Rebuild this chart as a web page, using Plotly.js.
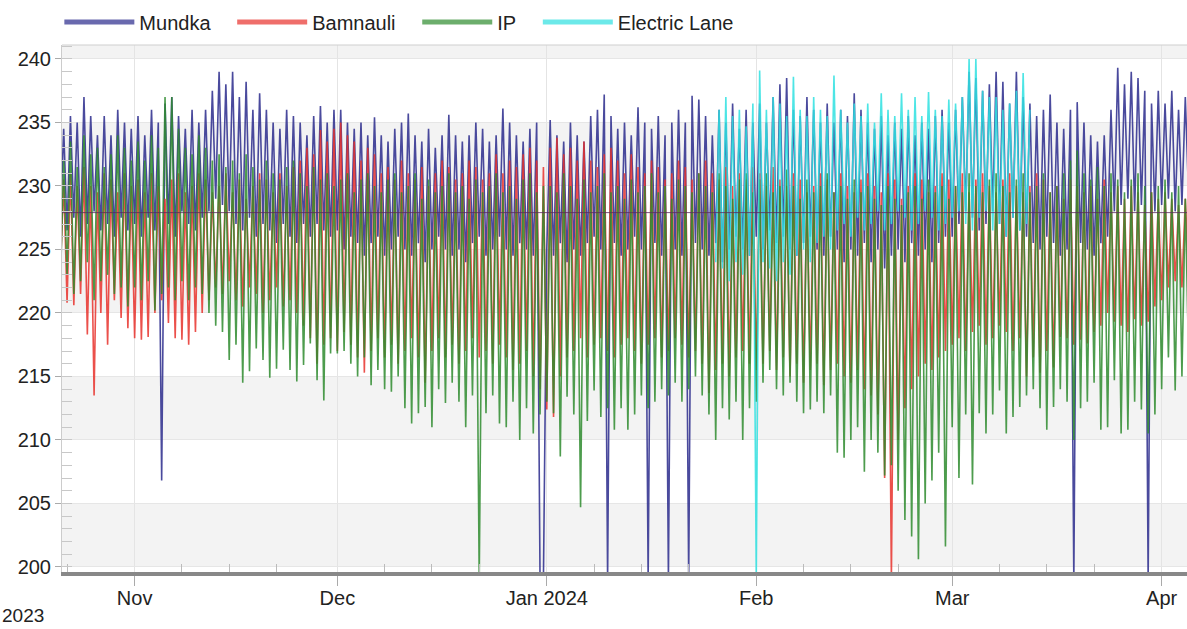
<!DOCTYPE html>
<html><head><meta charset="utf-8">
<script src="https://cdn.plot.ly/plotly-3.0.1.min.js"></script>
<style>html,body{margin:0;padding:0;background:#fff}#chart{width:1187px;height:629px}</style>
</head><body><div id="chart"></div>
<script>
// Daily readings (volts): first day 2023-10-21, one high and one low per day
const startDay = '2023-10-21';
const seriesNames = ['Mundka', 'Bamnauli', 'IP', 'Electric Lane'];

const mundkaHi = [
  234.5,235.5,235,237,235.5,234,235.5,234,236,235,234.5,
  235.5,234,236,235,236.5,237,235.5,234.5,236,235,236,237.5,239,238,239,237,238.2,236,237.3,236,235,234.5,236,235.5,235,234,235.5,236.3,235,236,
  236,235,234.5,235,234,235.4,234,233.5,234.5,235,235.7,234,233.5,234.5,233,234,235.6,234,233.5,234,235,234.5,233.5,234,236.1,235,234,233.5,234.5,235,199,
  235.2,234,233.5,235,234,233.5,235.5,236,237.2,235.5,234.5,235,234,236.2,235,234.5,235.5,234,235,236,235,237.1,236.8,235.5,234,236,235,236.5,234.5,236,235,
  236.5,235,237,238,238.5,236,235.5,237,236,235,236.5,235,236,235.5,237.3,236,235,234.5,235.5,234,235,234.5,235.5,234,235,234.5,235.5,236,235,
  236,237,239,238.5,237.5,238,239,238.2,236.5,239,237,236.5,235.5,236,237.2,235,234.5,236,236.6,235,234,233.5,234,236,239.3,238,239,238.5,237.5,236.5,237.5,
  236.5,237.5,236,237,236.5
];
const mundkaLo = [
  227,226.5,227.5,226,227,228,226.5,227,226,227.5,226.5,
  227,226,227.5,226.5,206.8,227,226,228,227,226.5,227.5,228,229,228.5,228,227,226.5,227.5,226,227,226.5,225.5,227,226,225.5,227,226,227,226.5,226,
  226.5,225,226,225.5,224.5,225.5,226,224.5,225,226,225,224.5,225.5,224,225,226,225,224.5,225,224,225.5,226,224.5,225,226,225,224.5,225.5,225,224.5,199,
  225,224.5,225.5,224,225,224.5,225.5,226,225,199,225.5,224.5,225,226,225,199,225.5,224.5,199,225,224.5,199,225.5,225,224.5,225.5,224,225,226,225,224.5,
  226,225,226.5,225.5,226,225,224.5,225.5,226,225,224.5,226,225,224,225,224.5,225.5,224,225,223.5,224.5,225,224,225.5,224.5,225,224,225.5,226,
  226,227,228,227.5,226.5,227,228,227,226,227.5,226.5,226,225.5,225,226,225.5,224.5,225,199,225.5,225,224.5,225.5,226,228,228.5,229,228,228.5,199,228,
  228.5,229,228,228.5,229
];
const bamnauliHi = [
  230.5,231,230,231.5,230,229.5,231,230.5,229.5,231,230,
  230.5,229.5,231,230,229,230.5,231,229.5,230,231,230.5,229.5,230,231,229.5,230.5,229,230,231,230.5,229.5,231,230,231.5,232,233,232.5,234.4,233.5,234.5,
  235,234,233.5,232,233,232.5,231,231.5,230.5,232,231,230.5,231.5,230,231,232,231.5,230.5,231,232,231.5,230.5,231,232.5,231,232,231.5,232.5,233,232,231.5,
  233,233.8,232.5,233,232,233.5,232,231.5,232.5,233,232,231,232.5,231.5,231,232,231.5,230.5,231,232,231.5,230.5,231,232,231,230.5,231.5,230,231,230.5,231.5,
  231,230,231.5,230.5,230,231,230.5,229.5,230,231,230.5,229.5,231,230,229.5,230.5,231,230,229.5,231,230.5,229,230,231,230.5,229.5,230,231,230.5,
  230,231,229.5,230.5,231,230,229.5,230.5,231,230,229.5,230,231,230.5,229.5,230,229,230.5,230,229.5,230,229,230.5,229.5,230,229,230,229.5,228.5,229.5,229,
  229.5,229,228.5,229,229.5
];
const bamnauliLo = [
  223,220.8,220.6,221.5,218.3,213.5,220,217.5,221,219.6,218.8,
  218,217.9,218.1,220,221,219.2,218,217.9,217.5,218.5,220,221,222,221.5,222.5,221,220.5,222,221.5,220,221,222,220.5,221,220,219,218,216,217.5,218,
  217,218.5,217.5,216.5,215.3,217,218,216.5,217.5,216,217,218,216.5,214.5,217,218,216.5,217.5,216,217,218,216.5,217,216,217.5,216.5,215.5,216,217,215,214,
  212.4,211.8,215,216.5,217,218,216.5,217.5,218,217,216.5,217.5,218,217,216,217.5,218,216.5,217,218,217.5,216.5,217,216,213.7,215.5,216,215,216.5,217,216,
  215.5,216,217,215.5,216.5,215,216,214.5,215.5,216,214.3,215.5,216,215,214.5,215.5,214,213.5,212,207,199,210,212.5,214,215,216,215.5,216.5,217,
  217.5,218,217,218.5,219,217.5,218,219,218.5,217,218,215,216.5,215.3,217,215.7,218.1,218,217.5,217.9,217.6,218.5,219,220,219.3,219,218.5,219.5,219,219.3,220.5,
  221,222,222.5,222,223
];
const ipHi = [
  232,233.5,231.5,234,232.5,233,231.5,232.5,234,233,232,
  233.5,232,234,233,237,237,234.5,233,232.5,234,233,232,232.5,231.5,232,231,232.5,231.5,230.5,232,231,230.5,231.5,232,231,230,231.5,230.5,231,230,
  230.5,231,229.5,230.5,231,230,229.5,230.5,231,229.5,230,231,229,230.5,229.5,230,231,229.5,230,229,230.5,229.5,230,231,229.5,230,229,230.5,231,229.5,230,
  230,229.5,231,230,229,230.5,229.5,230,231,229.5,230,229,230.5,229.5,230,231,229.5,230,229,230.5,230,229.5,231,230,229.5,231,230,229,230.5,231,229.5,
  230.5,231,229.5,230,231.3,230,229,230.5,229.5,230,231,229.5,230,229,230.5,229.5,230,229,228.5,230,229,228.5,229.5,230,229,230.5,229.5,230,229,
  230,229.5,231,230,229.5,230.5,231,230,229.5,230.5,231,229.5,230,231,229.5,230,231,232,232.8,231,230.5,231.5,230,231,230.5,229.5,230.5,231,230,229.5,230,
  230.5,229.5,230,229,229.5
];
const ipLo = [
  222,223,221.5,222.5,224,221,222.5,223,221.5,222,220.5,
  222,221,222.5,220.2,221.5,222,221,222.5,221,222,221.5,220,219,218.5,216.3,217.5,214.5,215.4,217.2,216.3,214.9,215.6,217.1,215.5,214.6,215.9,217.6,214.7,213.1,216.8,
  216.8,217,216,215,216.5,214.3,215.5,214,213.8,215,212.5,211.3,212.1,212.6,211,214,212.9,214.5,213,211,213.5,199,212.1,213.5,211.3,211,213,210,212.5,210.5,212,
  213,212.1,208.7,213.4,212,204.7,211.5,213.9,211.8,212.5,210.8,212.5,210.8,212,213.5,212.5,213,214,213.5,214.5,213,214,215,213.5,212,210,212.5,211.6,213,210,212.5,
  213,214.5,215.5,214,213.5,214.5,213,212.1,212.4,213,212.1,213.5,209,208.6,210,211,207.5,210,209,207.2,208,206,203.7,202.4,200.6,205,206.8,209,201.6,
  211,207,212,206.5,212.1,210.5,212,213.9,210.5,211.8,212.6,213.5,214,212.5,210.8,212.6,214,213,210,212.5,213,214.5,210.8,211,214.7,210.5,210.8,213,212.4,210.5,212,
  214,216.5,213.9,215,216
];
// Electric Lane only reports from 2024-01-26
const electricStart = '2024-01-26';
const electricHi = [
  236,237,235.5,236,234.7,236.5,
  239.1,236,237,236.5,235.5,238.6,236,235.5,237,236,235.5,238.7,236,235,236.5,235.5,236.5,235,237.3,236,235.5,237.3,236,237,235.5,237.4,236,235.5,236.8,
  236.5,237,240,240,237.5,237,237,236,236.5,237.5,238.9,236
];
const electricLo = [
  224,223.5,222.5,224,223,224.5,
  199,224,223.5,222.5,224,223,224.5,225,224,225.5,226,225,226.5,227,226,227.5,226.5,227,228,226.5,227,228,227.5,226.5,227,228,227.5,226.5,227,
  227.5,228,227,226.5,227.5,228,226.5,227,226,227.5,226.5,227
];
const referenceLevel = [227.9];

const monthTicks = ['2023-11-01','2023-12-01','2024-01-01','2024-02-01','2024-03-01','2024-04-01'];
const monthLabels = ['Nov','Dec','Jan 2024','Feb','Mar','Apr'];
const yTicks = [200,205,210,215,220,225,230,235,240];

const colors = ['#2a2a8c','#e8312c','#2e8b2e','#2ee0e0'];
const pad = '\u00a0\u00a0\u00a0';

function stamp(start, i, hour) {
  const d = new Date(start + 'T00:00:00Z');
  d.setUTCDate(d.getUTCDate() + i);
  return d.toISOString().slice(0,10) + ' ' + String(hour).padStart(2,'0') + ':00';
}
function zigzag(start, hi, lo) {
  const x = [], y = [];
  for (let i = 0; i < hi.length; i++) {
    x.push(stamp(start, i, 0)); y.push(lo[i]);
    x.push(stamp(start, i, 12)); y.push(hi[i]);
  }
  return {x, y};
}
const seriesData = [
  zigzag(startDay, mundkaHi, mundkaLo),
  zigzag(startDay, bamnauliHi, bamnauliLo),
  zigzag(startDay, ipHi, ipLo),
  zigzag(electricStart, electricHi, electricLo)
];

const traces = [];
seriesData.forEach((s, k) => {
  traces.push({type:'scatter', mode:'lines', x:s.x, y:s.y, name:seriesNames[k],
    line:{color:colors[k], width:1.6}, opacity:0.85, showlegend:false, hoverinfo:'skip'});
});
const firstX = seriesData[0].x[0], lastX = seriesData[0].x[seriesData[0].x.length-1];
traces.push({type:'scatter', mode:'lines', x:[firstX, lastX], y:[referenceLevel[0], referenceLevel[0]],
  line:{color:'#5a2a5a', width:1}, opacity:0.8, showlegend:false, hoverinfo:'skip'});
seriesNames.forEach((n, k) => {
  traces.push({type:'scatter', mode:'lines', x:[null], y:[null], name:n + (k < seriesNames.length-1 ? pad : ''),
    line:{color:colors[k], width:5}, opacity:0.7, showlegend:true});
});

const bands = [];
for (let i = 0; i < yTicks.length; i += 2) {
  bands.push({type:'rect', xref:'paper', x0:0, x1:1, yref:'y', y0:yTicks[i], y1:yTicks[i]+5,
    fillcolor:'#f3f3f3', line:{width:0}, layer:'below'});
}
bands.push({type:'line', xref:'paper', x0:0, x1:1, yref:'paper', y0:1, y1:1, line:{color:'#cfcfcf', width:1}});

const minorTicks = [];
['2023-10','2023-11','2023-12','2024-01','2024-02','2024-03'].forEach(m => {
  ['08','15','22'].forEach(d => minorTicks.push(m + '-' + d));
});

const layout = {
  width:1187, height:629,
  margin:{l:62, r:0, t:45, b:57},
  paper_bgcolor:'#ffffff', plot_bgcolor:'#ffffff',
  font:{family:'"Liberation Sans", Arial, sans-serif', size:20, color:'#222'},
  showlegend:true,
  legend:{orientation:'h', xref:'container', yref:'container', x:0.05, y:0.965, xanchor:'left', yanchor:'middle',
    font:{size:20, color:'#222'}, itemwidth:70, bgcolor:'rgba(0,0,0,0)'},
  xaxis:{type:'date', range:['2023-10-21 06:00','2024-04-04 18:00'],
    tickmode:'array', tickvals:monthTicks, ticktext:monthLabels,
    ticks:'outside', ticklen:10, tickcolor:'#aaaaaa', tickwidth:1, ticklabelstandoff:-5,
    showline:true, linecolor:'#888888', linewidth:4,
    showgrid:true, gridcolor:'#e4e4e4', gridwidth:1, zeroline:false,
    minor:{tickmode:'array', tickvals:minorTicks, ticks:'inside', ticklen:8, tickcolor:'#bbbbbb', showgrid:false},
    tickfont:{size:20, color:'#222'}, fixedrange:true},
  yaxis:{range:[199.6, 241.1], tickmode:'array', tickvals:yTicks,
    ticks:'outside', ticklen:6, tickcolor:'#aaaaaa',
    showline:true, linecolor:'#cccccc', linewidth:1,
    showgrid:true, gridcolor:'#e6e6e6', zeroline:false,
    minor:{dtick:1, ticks:'inside', ticklen:10, tickcolor:'#c8c8c8', showgrid:false},
    tickfont:{size:20, color:'#222'}, fixedrange:true},
  shapes:bands,
  annotations:[{text:'2023', xref:'paper', yref:'paper', x:-0.0347, y:-0.083, xanchor:'center', yanchor:'middle',
    showarrow:false, font:{size:19, color:'#222'}}]
};

Plotly.newPlot('chart', traces, layout, {displayModeBar:false, staticPlot:true});
</script>
</body></html>
